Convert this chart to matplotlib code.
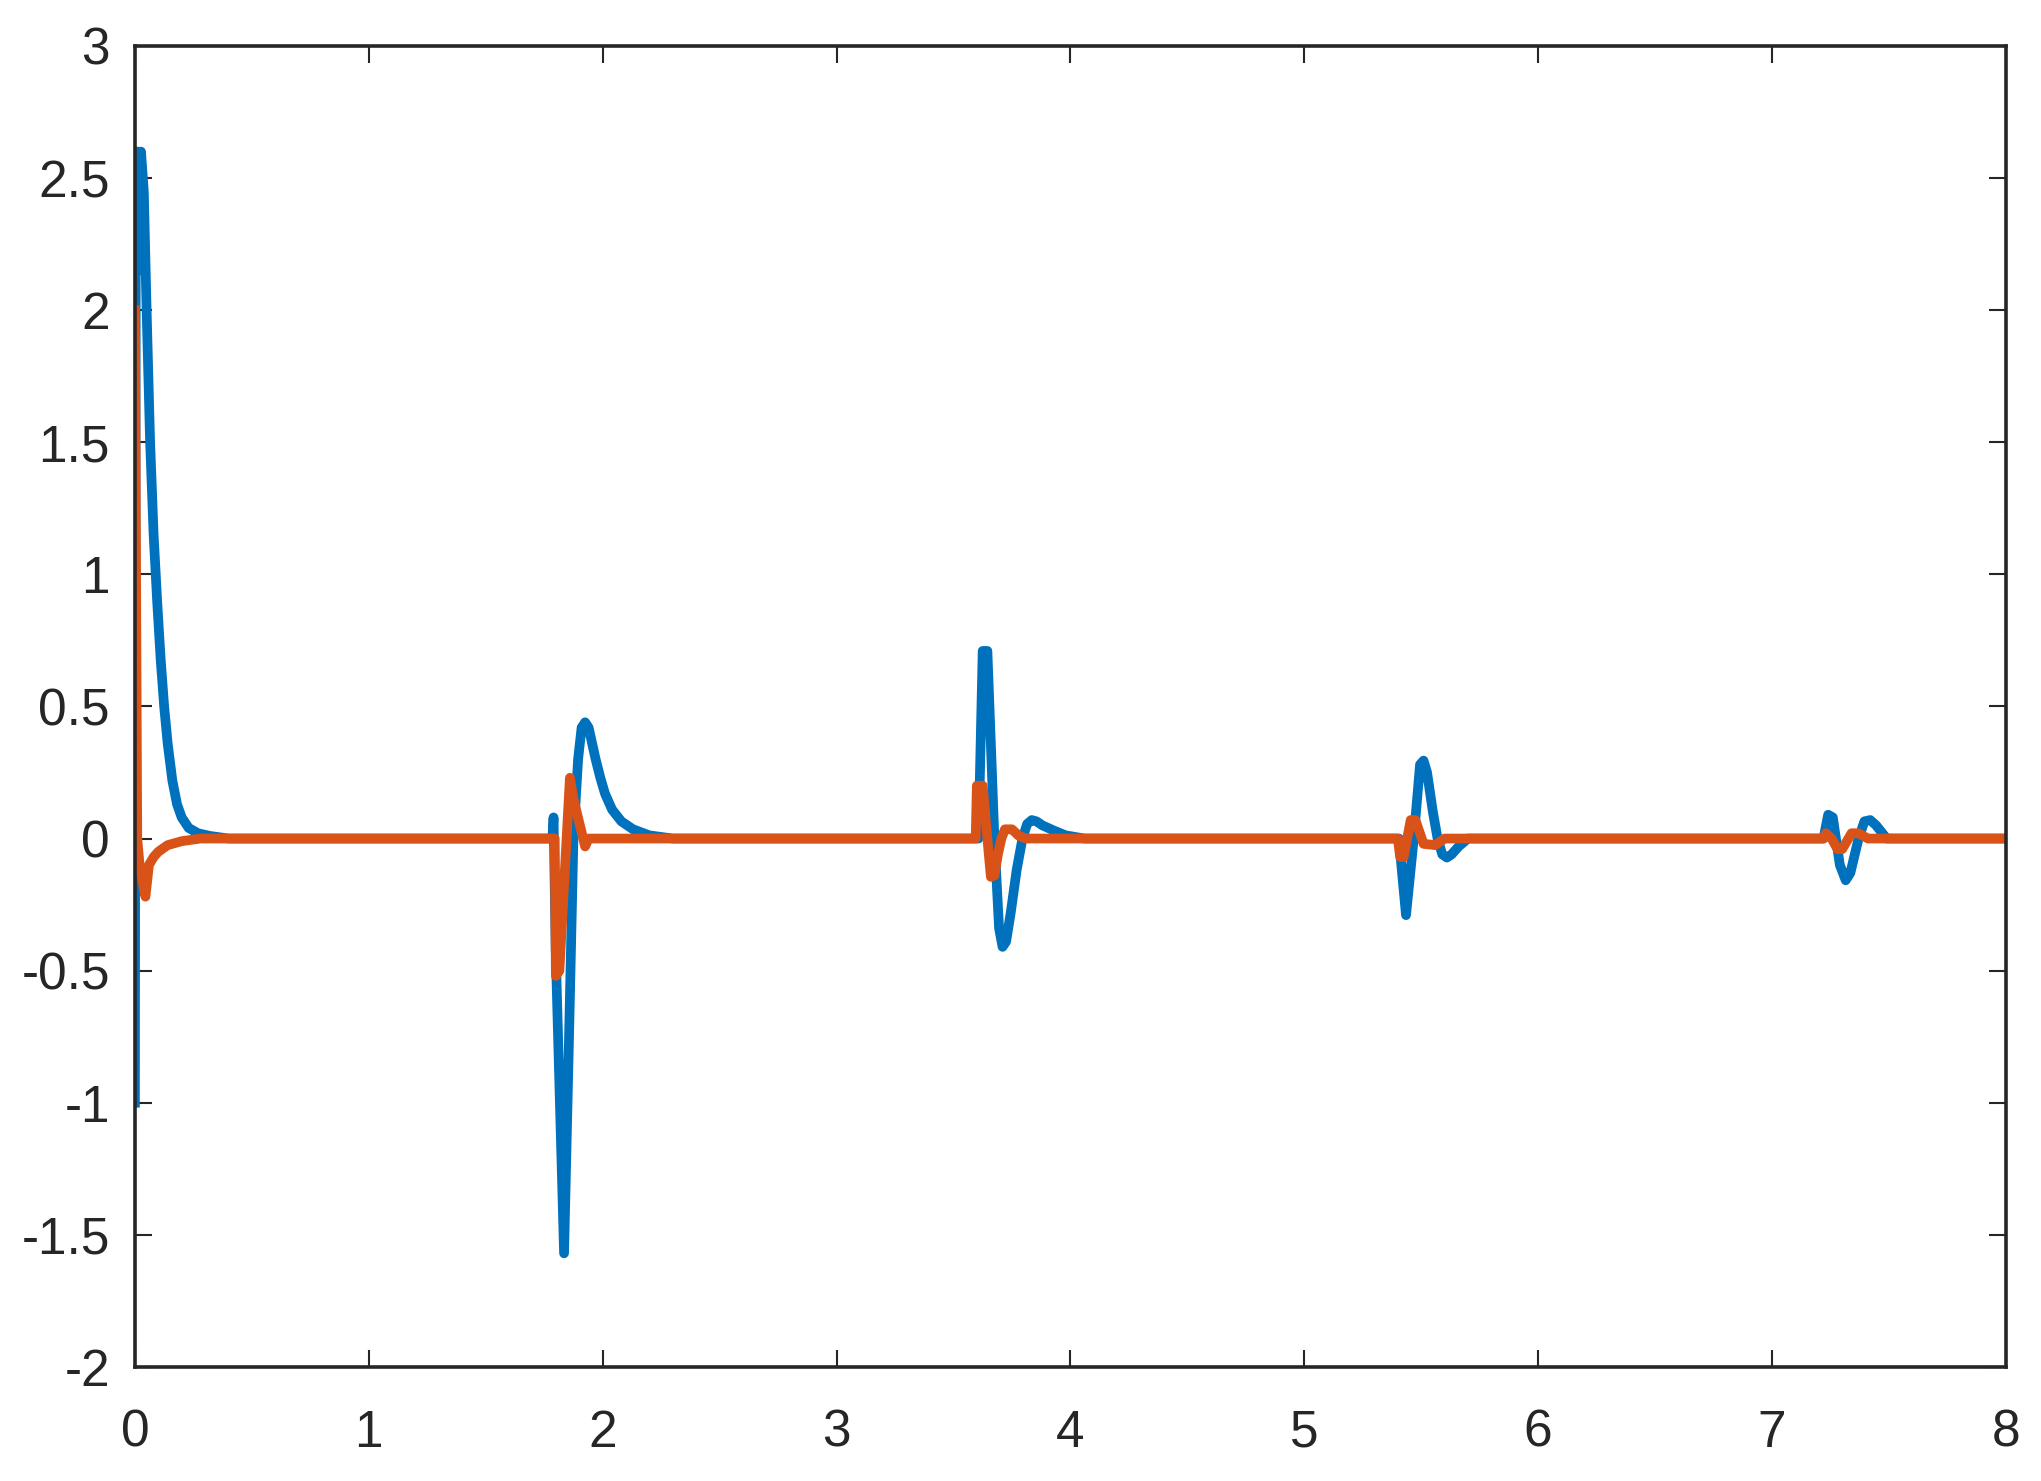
import matplotlib
matplotlib.use("Agg")
import matplotlib.pyplot as plt

# ---- data ----
t_blue = [0.0, 0.004, 0.012, 0.018, 0.026, 0.038, 0.05, 0.065, 0.08, 0.095, 0.11,
          0.125, 0.14, 0.16, 0.18, 0.2, 0.23, 0.27, 0.32, 0.4,
          1.785, 1.79, 1.80, 1.835, 1.855, 1.875, 1.895, 1.91, 1.925, 1.94, 1.955,
          1.97, 1.99, 2.01, 2.04, 2.08, 2.13, 2.2, 2.3,
          3.60, 3.607, 3.625, 3.645, 3.675, 3.695, 3.71, 3.725, 3.745, 3.77, 3.795,
          3.815, 3.835, 3.855, 3.88, 3.93, 3.98, 4.06,
          5.405, 5.415, 5.435, 5.468, 5.495, 5.51, 5.525, 5.55, 5.57, 5.59, 5.61,
          5.63, 5.66, 5.70,
          7.22, 7.24, 7.26, 7.29, 7.315, 7.335, 7.37, 7.395, 7.42, 7.445, 7.49, 8.0]
y_blue = [-1.0, 2.6, 2.6, 2.15, 2.6, 2.45, 2.0, 1.5, 1.15, 0.9, 0.68,
          0.5, 0.36, 0.22, 0.13, 0.08, 0.04, 0.02, 0.01, 0.0,
          0.0, 0.08, -0.45, -1.57, -0.8, 0.0, 0.3, 0.42, 0.44, 0.42, 0.36,
          0.3, 0.23, 0.17, 0.11, 0.065, 0.035, 0.012, 0.0,
          0.0, 0.0, 0.71, 0.71, 0.0, -0.34, -0.41, -0.39, -0.28, -0.12, 0.0,
          0.055, 0.07, 0.065, 0.05, 0.03, 0.012, 0.0,
          0.0, -0.1, -0.29, 0.0, 0.28, 0.295, 0.25, 0.1, 0.0, -0.06, -0.072,
          -0.06, -0.03, 0.0,
          0.0, 0.09, 0.08, -0.1, -0.158, -0.13, 0.0, 0.065, 0.07, 0.05, 0.0, 0.0]

t_red = [0.0, 0.01, 0.02, 0.045, 0.06, 0.08, 0.1, 0.14, 0.2, 0.28,
         1.795, 1.80, 1.815, 1.86, 1.875, 1.90, 1.925, 1.94,
         3.595, 3.60, 3.625, 3.65, 3.66, 3.675, 3.69, 3.705, 3.72, 3.75, 3.78, 3.81,
         5.40, 5.41, 5.425, 5.455, 5.475, 5.51, 5.56, 5.60,
         7.22, 7.23, 7.255, 7.28, 7.30, 7.34, 7.37, 7.41, 8.0]
y_red = [2.0, 0.0, -0.1, -0.22, -0.1, -0.07, -0.05, -0.025, -0.01, 0.0,
         0.0, -0.52, -0.5, 0.23, 0.15, 0.06, -0.03, 0.0,
         0.0, 0.2, 0.2, -0.05, -0.145, -0.14, -0.06, 0.0, 0.035, 0.035, 0.01, 0.0,
         0.0, -0.07, -0.07, 0.07, 0.07, -0.02, -0.025, 0.0,
         0.0, 0.02, 0.0, -0.04, -0.04, 0.02, 0.02, 0.0, 0.0]

x_ticks = [0, 1, 2, 3, 4, 5, 6, 7, 8]
y_ticks = [-2, -1.5, -1, -0.5, 0, 0.5, 1, 1.5, 2, 2.5, 3]
y_tick_labels = ["-2", "-1.5", "-1", "-0.5", "0", "0.5", "1", "1.5", "2", "2.5", "3"]

# ---- figure ----
plt.rcParams['font.family'] = ['Liberation Sans', 'DejaVu Sans']
txt = '#262626'

fig = plt.figure(figsize=(20.41, 14.81), dpi=100)
ax = fig.add_axes([0.0661, 0.077, 0.9167, 0.892])

ax.plot(t_blue, y_blue, color='#0072BD', lw=7.0, solid_joinstyle='round')
ax.plot(t_red, y_red, color='#D95319', lw=7.0, solid_joinstyle='round')

ax.set_xlim(0, 8)
ax.set_ylim(-2, 3)
ax.set_xticks(x_ticks)
ax.set_xticklabels([str(v) for v in x_ticks])
ax.set_yticks(y_ticks)
ax.set_yticklabels(y_tick_labels)

for s in ax.spines.values():
    s.set_linewidth(2.6)
    s.set_color(txt)

ax.tick_params(axis='both', direction='in', length=12, width=1.5, color=txt,
               labelsize=37, labelcolor=txt, top=True, right=True)
ax.tick_params(axis='x', pad=30)
ax.tick_params(axis='y', pad=18)

fig.savefig('out.png', dpi=100, facecolor='white')
